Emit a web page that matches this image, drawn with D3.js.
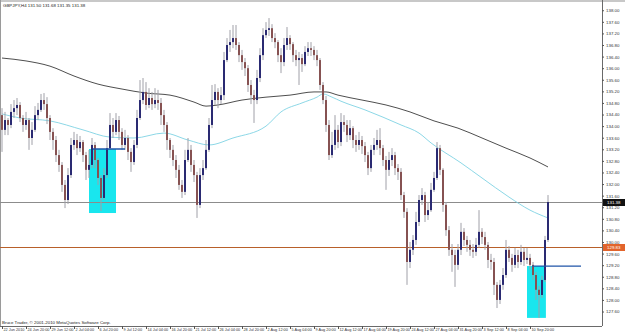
<!DOCTYPE html>
<html>
<head>
<meta charset="utf-8">
<script src="https://cdn.jsdelivr.net/npm/d3@7"></script>
<style>
  body { margin: 0; background: #fff; }
  svg text { font-family: "Liberation Sans", Arial, sans-serif; }
</style>
</head>
<body>
<svg id="chart"></svg>
<script>
// GBPJPY H4 bars (close / high / low), open = previous close
const firstOpen = 134.38;
const closes = [
  133.87,134.21,134.04,134.49,134.62,134.73,134.28,134.04,134.21,133.59,
  133.87,134.38,134.56,134.90,134.76,134.28,133.80,133.52,133.00,132.66,
  131.97,131.45,132.31,133.35,133.52,133.24,133.45,133.00,132.49,132.66,
  133.35,132.83,132.21,131.52,132.31,133.24,134.04,133.80,134.21,133.80,
  133.35,133.59,133.11,132.76,133.35,134.28,134.90,135.18,134.73,134.97,
  134.76,134.90,134.80,134.38,134.04,133.52,133.18,132.83,132.49,131.97,
  131.73,132.83,133.18,132.66,132.31,131.28,132.31,132.55,133.18,134.04,
  134.90,135.18,134.90,135.07,136.28,136.80,136.90,137.04,136.80,136.45,
  136.21,136.00,135.42,135.07,134.90,135.66,136.45,137.14,137.32,137.38,
  137.04,136.90,136.45,136.21,136.80,137.04,136.83,136.45,136.28,136.35,
  136.14,136.56,136.69,136.63,136.45,136.28,135.42,134.90,134.04,133.00,
  133.35,133.87,133.45,134.14,134.04,133.69,133.93,133.52,133.35,133.52,
  133.31,133.00,132.55,133.18,133.35,133.52,133.24,132.83,132.49,132.83,
  133.00,132.55,132.42,131.62,131.04,129.31,129.73,130.07,130.69,131.45,
  131.62,130.93,131.10,131.80,132.21,133.24,132.49,131.28,130.41,129.73,
  129.55,129.21,129.73,130.35,130.07,129.90,129.73,129.66,129.90,130.35,
  130.17,129.90,129.38,129.31,128.52,128.00,128.52,128.86,129.73,129.45,
  129.21,129.55,129.31,129.66,129.38,129.45,129.21,128.86,128.35,128.17,
  128.69,130.07,131.38
];
const highs = [
  134.62,134.49,134.28,134.76,134.90,134.97,134.83,134.38,134.49,134.28,
  134.14,134.69,134.80,135.11,135.14,135.00,134.38,133.93,133.66,133.18,
  132.76,132.14,132.55,133.59,133.80,133.73,133.66,133.52,133.11,133.18,
  133.59,133.45,132.90,132.31,132.55,133.52,134.45,134.28,134.45,134.35,
  133.93,133.87,133.69,133.24,133.52,134.56,135.59,135.66,135.52,135.31,
  135.18,135.31,135.25,134.97,134.56,134.14,133.59,133.35,133.00,132.66,
  132.14,133.18,133.59,133.35,132.83,132.42,132.55,132.83,133.52,134.28,
  135.42,135.45,135.31,135.35,136.56,137.04,137.32,137.49,137.49,136.90,
  136.63,136.35,136.11,135.59,135.25,135.94,136.69,137.38,137.59,137.73,
  137.52,137.21,136.97,136.69,137.04,137.42,137.14,136.90,136.63,136.56,
  136.49,136.76,136.90,136.90,136.76,136.63,136.35,135.52,135.04,134.21,
  133.80,134.38,134.04,134.45,134.38,134.21,134.21,134.00,133.69,133.80,
  133.66,133.45,133.11,133.35,133.59,133.87,133.93,133.35,132.97,133.11,
  133.24,133.11,132.69,132.55,131.73,131.17,130.00,130.24,131.04,131.62,
  131.86,131.73,131.38,132.04,132.42,133.45,133.35,132.55,131.38,130.55,
  129.93,129.73,129.93,130.66,130.48,130.21,130.07,129.93,130.14,131.10,
  130.48,130.35,130.00,129.59,129.45,128.62,128.69,129.10,130.07,129.86,
  129.59,129.80,129.73,129.90,129.80,129.80,129.59,129.31,128.97,128.48,
  128.83,130.21,131.62
];
const lows = [
  133.11,133.69,133.69,133.93,134.28,134.38,134.14,133.80,133.87,133.18,
  133.35,133.80,134.21,134.49,134.56,134.07,133.52,133.18,132.76,132.42,
  131.73,131.17,131.31,132.21,133.18,133.00,133.11,132.76,132.14,132.21,
  132.55,132.55,131.97,131.07,131.45,132.21,133.18,133.59,133.69,133.52,
  133.18,133.18,132.83,132.42,132.66,133.24,134.21,134.76,134.56,134.62,
  134.56,134.62,134.56,134.04,133.80,133.18,132.90,132.62,132.21,131.80,
  131.52,131.62,132.76,132.42,132.07,130.83,131.17,132.14,132.49,133.11,
  133.93,134.73,134.62,134.76,134.90,136.21,136.56,136.69,136.63,136.21,
  135.94,135.73,135.18,134.76,134.11,134.76,135.52,136.28,137.04,137.11,
  136.90,136.69,136.21,135.83,136.07,136.63,136.63,136.21,136.07,135.42,
  135.87,136.07,136.42,136.42,136.28,136.07,135.25,134.76,133.80,132.83,
  132.90,133.18,133.24,133.31,133.80,133.45,133.52,133.24,133.11,133.18,
  133.04,132.76,132.31,132.42,133.00,133.18,133.00,132.62,131.80,132.28,
  132.62,132.31,132.14,131.45,130.83,128.52,129.10,129.55,129.90,130.55,
  131.28,130.69,130.76,131.04,131.73,132.14,132.31,131.04,130.21,129.52,
  128.97,128.45,129.04,129.55,129.86,129.66,129.52,129.45,129.52,129.80,
  129.93,129.73,129.10,129.04,128.17,127.72,127.86,128.35,128.76,129.31,
  128.97,129.10,129.10,129.21,129.17,129.24,129.04,128.69,128.00,127.38,
  128.07,128.62,130.00
];

// moving averages, sampled at bar index
const maSlowIdx = [0,8,16,24,32,40,48,56,64,68,72,80,88,96,104,108,112,120,128,136,144,152,160,168,176,182];
const maSlowVal = [136.35,136.25,136.07,135.73,135.45,135.28,135.14,135.07,134.83,134.69,134.73,134.90,135.00,135.07,135.18,135.18,135.07,134.90,134.73,134.49,134.18,133.93,133.59,133.24,132.90,132.59];
const maFastIdx = [0,6,16,27,36,44,54,62,69,77,88,93,100,105,107,110,113,121,133,139,143,153,160,169,176,182];
const maFastVal = [134.42,134.28,134.18,133.87,133.62,133.59,133.76,133.52,133.35,133.59,134.00,134.49,134.80,135.00,135.11,135.00,134.86,134.56,134.04,133.76,133.42,132.73,132.21,131.55,131.10,130.83];

// drawn objects
const boxes = [
  { from: 29, to: 38, top: 133.21, bottom: 131.00 },
  { from: 175, to: 181.3, top: 129.17, bottom: 127.38 }
];
const segments = [
  { from: 30.3, to: 41, price: 133.21 },
  { from: 176.7, to: 193, price: 129.17 }
];
const bidPrice = 131.38;
const levelPrice = 129.83;

const priceTicks = [138.00,137.60,137.20,136.80,136.40,136.00,135.60,135.20,134.80,134.40,134.00,133.60,133.20,132.80,132.40,132.00,131.60,131.20,130.80,130.40,130.00,129.60,129.20,128.80,128.40,128.00,127.60];
const timeIdx = [0,8,16,24,32,40,48,56,64,72,80,88,96,104,112,120,128,136,144,152,160,168,176];
const timeLabels = ["22 Jun 2010","24 Jun 20:00","29 Jun 12:00","2 Jul 04:00","6 Jul 20:00","9 Jul 12:00","14 Jul 04:00","16 Jul 20:00","21 Jul 12:00","26 Jul 04:00","28 Jul 20:00","2 Aug 12:00","5 Aug 04:00","9 Aug 20:00","12 Aug 12:00","17 Aug 04:00","19 Aug 20:00","24 Aug 12:00","27 Aug 04:00","31 Aug 20:00","3 Sep 12:00","8 Sep 04:00","10 Sep 20:00"];

const width = 625, height = 334;
const plotRight = 602, plotBottom = 326, plotTop = 3;

const x = d3.scaleLinear().domain([0, 200]).range([2, plotRight]);
const y = d3.scaleLinear().domain([127.10, 138.25]).range([plotBottom, plotTop]);

const svg = d3.select('#chart')
  .attr('width', width)
  .attr('height', height);

svg.append('rect').attr('width', width).attr('height', height).attr('fill', '#fff');

// window frame
svg.append('rect').attr('x', 0).attr('y', 0).attr('width', width).attr('height', 2).attr('fill', '#c8c8c8');
svg.append('line').attr('x1', 0.5).attr('x2', 0.5).attr('y1', 0).attr('y2', plotBottom).attr('stroke', '#9a9a9a');

const plot = svg.append('g');

// cyan boxes behind bars
plot.selectAll('rect.box')
  .data(boxes)
  .enter()
  .append('rect')
  .attr('class', 'box')
  .attr('x', d => x(d.from))
  .attr('y', d => y(d.top))
  .attr('width', d => x(d.to) - x(d.from))
  .attr('height', d => y(d.bottom) - y(d.top))
  .attr('fill', '#19e6ee');

// horizontal levels
plot.append('line')
  .attr('x1', 0).attr('x2', plotRight)
  .attr('y1', Math.round(y(bidPrice)) + 0.5).attr('y2', Math.round(y(bidPrice)) + 0.5)
  .attr('stroke', '#8c8c8c').attr('stroke-width', 1);
plot.append('line')
  .attr('x1', 0).attr('x2', plotRight)
  .attr('y1', Math.round(y(levelPrice)) + 0.5).attr('y2', Math.round(y(levelPrice)) + 0.5)
  .attr('stroke', '#b8602a').attr('stroke-width', 1.2);

// moving averages
const maLine = d3.line().x(d => x(d[0])).y(d => y(d[1])).curve(d3.curveMonotoneX);
plot.append('path')
  .datum(maSlowIdx.map((k, i) => [k, maSlowVal[i]]))
  .attr('d', maLine).attr('fill', 'none').attr('stroke', '#3a3a3a').attr('stroke-width', 0.9);
plot.append('path')
  .datum(maFastIdx.map((k, i) => [k, maFastVal[i]]))
  .attr('d', maLine).attr('fill', 'none').attr('stroke', '#7fd3e3').attr('stroke-width', 0.9);

// bars
const bars = closes.map((c, i) => ({
  i: i,
  open: i === 0 ? firstOpen : closes[i - 1],
  close: c,
  high: highs[i],
  low: lows[i]
}));

const bar = plot.selectAll('g.bar')
  .data(bars)
  .enter()
  .append('g')
  .attr('class', 'bar');

bar.append('line')
  .attr('x1', d => x(d.i)).attr('x2', d => x(d.i))
  .attr('y1', d => y(Math.max(d.high, d.open, d.close)))
  .attr('y2', d => y(Math.min(d.low, d.open, d.close)))
  .attr('stroke', '#a0a0a8')
  .attr('stroke-width', 1);

bar.append('rect')
  .attr('x', d => x(d.i) - 1)
  .attr('width', 2)
  .attr('y', d => y(Math.max(d.open, d.close)))
  .attr('height', d => Math.max(1, Math.abs(y(d.open) - y(d.close))))
  .attr('fill', d => d.close >= d.open ? '#2a2a72' : '#865252');

// blue segments
plot.selectAll('line.seg')
  .data(segments)
  .enter()
  .append('line')
  .attr('class', 'seg')
  .attr('x1', d => x(d.from)).attr('x2', d => x(d.to))
  .attr('y1', d => y(d.price)).attr('y2', d => y(d.price))
  .attr('stroke', '#1f55a8').attr('stroke-width', 1.3);

// right price axis
const yAxis = d3.axisRight(y)
  .tickValues(priceTicks)
  .tickSize(2)
  .tickPadding(2)
  .tickFormat(d => d.toFixed(2));
const ya = svg.append('g')
  .attr('transform', `translate(${plotRight}, 0)`)
  .call(yAxis);
ya.select('.domain').attr('stroke', '#6a6a6a').attr('d', `M0.5,0V${plotBottom}`);
ya.selectAll('.tick line').attr('stroke', '#555');
ya.selectAll('.tick text').attr('font-size', 4.4).attr('fill', '#333');

// price markers on the axis
const markers = [
  { price: bidPrice, fill: '#111', text: '#fff' },
  { price: levelPrice, fill: '#e2642c', text: '#fff' }
];
const mk = svg.selectAll('g.marker')
  .data(markers)
  .enter()
  .append('g')
  .attr('class', 'marker')
  .attr('transform', d => `translate(${plotRight + 1}, ${Math.round(y(d.price)) + 0.5})`);
mk.append('rect').attr('x', 0).attr('y', -3.5).attr('width', 22).attr('height', 7).attr('fill', d => d.fill);
mk.append('text').attr('x', 4).attr('dy', '0.35em').attr('font-size', 4.4)
  .attr('fill', d => d.text).text(d => d.price.toFixed(2));

// bottom time axis
const xAxis = d3.axisBottom(x)
  .tickValues(timeIdx)
  .tickSize(3)
  .tickFormat((d, i) => timeLabels[i]);
const xa = svg.append('g')
  .attr('transform', `translate(0, ${plotBottom})`)
  .call(xAxis);
xa.select('.domain').attr('stroke', '#6a6a6a').attr('d', `M0,0.5H${plotRight}`);
xa.selectAll('.tick line').attr('stroke', '#555');
xa.selectAll('.tick text')
  .attr('font-size', 3.8)
  .attr('fill', '#333')
  .attr('text-anchor', 'start')
  .attr('x', 1)
  .attr('y', 2.5);

// header and copyright
svg.append('text').attr('x', 3).attr('y', 7).attr('font-size', 4.4).attr('fill', '#222')
  .text('GBPJPY,H4  131.50 131.68 131.35 131.38');
svg.append('text').attr('x', 2).attr('y', 324).attr('font-size', 4.4).attr('fill', '#222')
  .text('Bruce Trader, © 2001-2010 MetaQuotes Software Corp.');
</script>
</body>
</html>
